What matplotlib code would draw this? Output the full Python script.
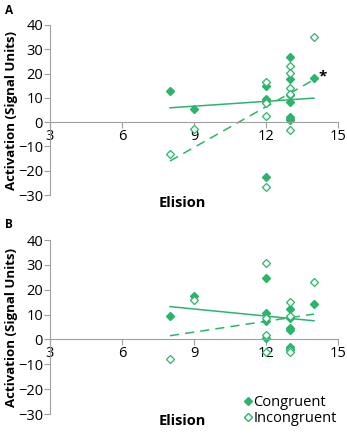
import numpy as np
from matplotlib import pyplot as plt
from matplotlib.lines import Line2D

GREEN = "#2bb56b"

# panel A
a_cong_x = [8, 9, 12, 12, 12, 12, 13, 13, 13, 13, 13, 13, 13, 14]
a_cong_y = [13.0, 5.5, 14.7, 9.6, 8.9, -22.6, 26.7, 17.9, 11.0, 8.2, 2.3, 1.4, 0.7, 18.0]
a_inc_x = [8, 9, 12, 12, 12, 12, 13, 13, 13, 13, 13, 14]
a_inc_y = [-13.0, -2.7, 16.5, 7.8, 2.5, -26.7, 23.3, 20.2, 14.2, 11.7, -3.2, 35.0]
a_trend_cong = [5.9, 9.9]
a_trend_inc = [-16.0, 17.5]

# panel B
b_cong_x = [8, 9, 12, 12, 12, 12, 13, 13, 13, 13, 13, 13, 14]
b_cong_y = [9.4, 17.5, 24.6, 10.5, 7.5, 0.4, 12.1, 8.5, 4.4, 3.8, -3.2, -4.0, 14.2]
b_inc_x = [8, 9, 12, 12, 12, 12, 13, 13, 13, 13, 14]
b_inc_y = [-7.7, 15.9, 30.6, 8.5, 1.7, -5.0, 14.9, 9.4, -4.3, -5.0, 23.0]
b_trend_cong = [13.2, 7.5]
b_trend_inc = [1.5, 10.2]

trend_x = [8, 14]
x_ticks = [3, 6, 9, 12, 15]
y_ticks = [-30, -20, -10, 0, 10, 20, 30, 40]

plt.rcParams["font.family"] = ["Open Sans", "DejaVu Sans"]


def draw_panel(ax, cx, cy, ix, iy, t_cong, t_inc):
    ax.plot(trend_x, t_cong, color=GREEN, lw=1.1)
    ax.plot(trend_x, t_inc, color=GREEN, lw=1.1, dashes=(6, 4))
    ax.plot(cx, cy, "D", color=GREEN, ms=3.8, mec=GREEN, ls="none")
    ax.plot(ix, iy, "D", mfc="white", mec=GREEN, mew=0.9, ms=4.3, ls="none")
    ax.set_xlim(3, 15)
    ax.set_ylim(-30, 40)
    ax.set_xticks(x_ticks)
    ax.set_yticks(y_ticks)
    ax.spines["top"].set_visible(False)
    ax.spines["right"].set_visible(False)
    ax.spines["bottom"].set_position(("data", 0))
    for s in ("left", "bottom"):
        ax.spines[s].set_color("#a0a0a0")
    ax.tick_params(axis="both", colors="#a0a0a0", labelcolor="black",
                   labelsize=10.5, length=4, width=0.8, pad=1)
    ax.set_ylabel("Activation (Signal Units)", fontsize=9.5, fontweight="bold",
                  labelpad=0)
    ax.patch.set_alpha(0)


fig = plt.figure(figsize=(3.47, 4.36), dpi=100)
ax_a = fig.add_axes([50 / 347, 1 - 195 / 436, 288 / 347, 170 / 436])
ax_b = fig.add_axes([50 / 347, 1 - 414 / 436, 288 / 347, 174 / 436])

draw_panel(ax_a, a_cong_x, a_cong_y, a_inc_x, a_inc_y, a_trend_cong, a_trend_inc)
draw_panel(ax_b, b_cong_x, b_cong_y, b_inc_x, b_inc_y, b_trend_cong, b_trend_inc)

ax_a.text(14.2, 19.0, "*", fontsize=11, fontweight="bold", ha="left", va="center")

fig.text(182 / 347, 1 - 203 / 436, "Elision", fontsize=10.5, fontweight="bold",
         ha="center", va="center")
fig.text(182 / 347, 1 - 421 / 436, "Elision", fontsize=10.5, fontweight="bold",
         ha="center", va="center")
fig.text(5 / 347, 1 - 10 / 436, "A", fontsize=8.5, fontweight="bold", va="center")
fig.text(5 / 347, 1 - 225 / 436, "B", fontsize=8.5, fontweight="bold", va="center")

handles = [
    Line2D([], [], marker="D", color=GREEN, ls="none", ms=3.8),
    Line2D([], [], marker="D", mfc="white", mec=GREEN, ls="none", ms=4.3),
]
fig.legend(handles, ["Congruent", "Incongruent"], loc="lower right",
           bbox_to_anchor=(1.0, 0.0), frameon=False, fontsize=10.5,
           handlelength=0.5, handletextpad=0.15, labelspacing=0.05,
           borderpad=0.2)

fig.savefig("out.png", dpi=100)
